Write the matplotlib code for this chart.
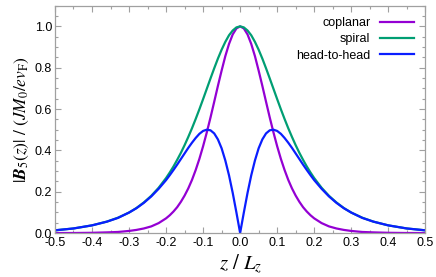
import numpy as np
import matplotlib.pyplot as plt
from matplotlib.ticker import MultipleLocator

plt.rcParams['font.family'] = ['Liberation Sans', 'DejaVu Sans']
plt.rcParams['mathtext.fontset'] = 'stix'

# 値は図から読み取り
z = [-0.50, -0.45, -0.40, -0.36, -0.33, -0.30, -0.28, -0.26, -0.24, -0.22,
     -0.20, -0.19, -0.18, -0.17, -0.16, -0.15, -0.14, -0.13, -0.12, -0.11,
     -0.10, -0.09, -0.08, -0.07, -0.06, -0.05, -0.04, -0.03, -0.02, -0.01,
     0.00,
     0.01, 0.02, 0.03, 0.04, 0.05, 0.06, 0.07, 0.08, 0.09, 0.10,
     0.11, 0.12, 0.13, 0.14, 0.15, 0.16, 0.17, 0.18, 0.19, 0.20,
     0.22, 0.24, 0.26, 0.28, 0.30, 0.33, 0.36, 0.40, 0.45, 0.50]

coplanar = [0.000, 0.000, 0.001, 0.003, 0.005, 0.010, 0.015, 0.022, 0.032, 0.048,
            0.071, 0.086, 0.104, 0.125, 0.151, 0.181, 0.216, 0.257, 0.305, 0.359,
            0.420, 0.487, 0.559, 0.635, 0.712, 0.786, 0.856, 0.915, 0.961, 0.990,
            1.000,
            0.990, 0.961, 0.915, 0.856, 0.786, 0.712, 0.635, 0.559, 0.487, 0.420,
            0.359, 0.305, 0.257, 0.216, 0.181, 0.151, 0.125, 0.104, 0.086, 0.071,
            0.048, 0.032, 0.022, 0.015, 0.010, 0.005, 0.003, 0.001, 0.000, 0.000]

spiral = [0.013, 0.022, 0.037, 0.055, 0.074, 0.099, 0.121, 0.148, 0.180, 0.219,
          0.266, 0.293, 0.322, 0.354, 0.388, 0.425, 0.465, 0.507, 0.552, 0.599,
          0.648, 0.698, 0.748, 0.797, 0.844, 0.887, 0.925, 0.957, 0.980, 0.995,
          1.000,
          0.995, 0.980, 0.957, 0.925, 0.887, 0.844, 0.797, 0.748, 0.698, 0.648,
          0.599, 0.552, 0.507, 0.465, 0.425, 0.388, 0.354, 0.322, 0.293, 0.266,
          0.219, 0.180, 0.148, 0.121, 0.099, 0.074, 0.055, 0.037, 0.022, 0.013]

head_to_head = [0.013, 0.022, 0.037, 0.055, 0.073, 0.099, 0.120, 0.146, 0.177, 0.214,
                0.256, 0.280, 0.305, 0.331, 0.358, 0.385, 0.412, 0.437, 0.460, 0.480,
                0.494, 0.500, 0.497, 0.482, 0.453, 0.410, 0.351, 0.279, 0.194, 0.099,
                0.000,
                0.099, 0.194, 0.279, 0.351, 0.410, 0.453, 0.482, 0.497, 0.500, 0.494,
                0.480, 0.460, 0.437, 0.412, 0.385, 0.358, 0.331, 0.305, 0.280, 0.256,
                0.214, 0.177, 0.146, 0.120, 0.099, 0.073, 0.055, 0.037, 0.022, 0.013]

fig = plt.figure(figsize=(4.36, 2.77), dpi=100)
ax = fig.add_axes([0.1261, 0.1588, 0.8493, 0.8206])

ax.plot(z, coplanar, color='#9400d3', lw=1.6, label='coplanar')
ax.plot(z, spiral, color='#009e73', lw=1.6, label='spiral')
ax.plot(z, head_to_head, color='#0a1eff', lw=1.6, label='head-to-head')

ax.set_xlim(-0.5, 0.5)
ax.set_ylim(0, 1.1)
ax.xaxis.set_major_locator(MultipleLocator(0.1))
ax.xaxis.set_minor_locator(MultipleLocator(0.05))
ax.yaxis.set_major_locator(MultipleLocator(0.2))
ax.yaxis.set_minor_locator(MultipleLocator(0.05))
ax.set_xticks(np.arange(-0.5, 0.51, 0.1))
ax.set_xticklabels(['-0.5', '-0.4', '-0.3', '-0.2', '-0.1', '0.0',
                    '0.1', '0.2', '0.3', '0.4', '0.5'])

for s in ax.spines.values():
    s.set_color('#a0a0a0')
    s.set_linewidth(0.9)
ax.tick_params(which='both', direction='in', top=True, right=True,
               color='#a0a0a0', width=0.8, labelsize=9)
ax.tick_params(axis='x', pad=3)
ax.tick_params(axis='y', pad=2)
ax.tick_params(which='major', length=4.5)
ax.tick_params(which='minor', length=2.5)

ax.set_xlabel(r'$z\ /\ L_z$', fontsize=15, labelpad=2)
ax.set_ylabel(r'$|\mathbfit{B}_5(z)|\ /\ (JM_0/ev_\mathrm{F})$', fontsize=12.5, labelpad=3)

ax.legend(loc='upper right', frameon=False, markerfirst=False, fontsize=9,
          handlelength=2.7, handletextpad=0.8, labelspacing=0.35,
          borderaxespad=0.5)

plt.savefig('out.png', dpi=100)
